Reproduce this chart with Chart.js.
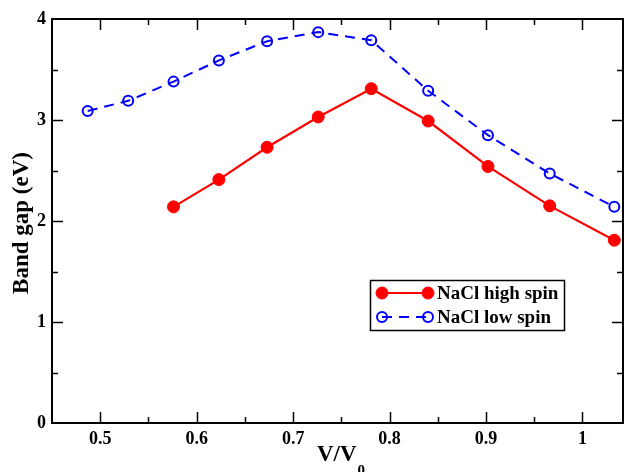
<!DOCTYPE html>
<html>
<head>
<meta charset="utf-8">
<script src="https://cdn.jsdelivr.net/npm/chart.js@4"></script>
<style>
  html, body { margin: 0; padding: 0; background: #fff; }
  #wrap { width: 624px; height: 472px; }
</style>
</head>
<body>
<div id="wrap"><canvas id="myChart" width="624" height="472"></canvas></div>
<script>
// band gap vs. V/V0 for NaCl structure
const volRatio = [0.487, 0.529, 0.576, 0.623, 0.673, 0.726, 0.781, 0.840, 0.902, 0.966, 1.033];
const lowSpinGap = [3.09, 3.19, 3.38, 3.59, 3.78, 3.87, 3.79, 3.29, 2.85, 2.47, 2.14];
// high spin starts at the third volume
const highSpinVol = volRatio.slice(2);
const highSpinGap = [2.14, 2.41, 2.73, 3.03, 3.31, 2.99, 2.54, 2.15, 1.81];
const xTickLabels = ['0.5', '0.6', '0.7', '0.8', '0.9', '1'];
const yTickLabels = ['0', '1', '2', '3', '4'];
const seriesNames = ['NaCl high spin', 'NaCl low spin'];

const FONT = '"Liberation Serif", "Times New Roman", serif';

function pts(xs, ys) {
    return xs.map((x, i) => ({ x: x, y: ys[i] }));
}

function isMajor(v, step) {
    return Math.abs(v / step - Math.round(v / step)) < 1e-6;
}

// stretch the plot to 1px from the right edge (chart.js keeps room for the last label)
const rightEdgePlugin = {
    id: 'rightEdge',
    afterLayout(chart) {
        const s = chart.scales.x;
        s.right = chart.width - 1;
        s.width = s.right - s.left;
        s.configure();
        chart.chartArea.right = s.right;
        chart.chartArea.width = s.right - chart.chartArea.left;
    }
};

// frame, inward ticks, axis titles and the boxed legend
const framePlugin = {
    id: 'frame',
    afterDraw(chart) {
        const ctx = chart.ctx;
        const a = chart.chartArea;
        const xs = chart.scales.x, ys = chart.scales.y;
        ctx.save();
        ctx.strokeStyle = '#000';
        ctx.lineWidth = 2;
        ctx.strokeRect(a.left, a.top, a.right - a.left, a.bottom - a.top);

        ctx.lineWidth = 1.5;
        ctx.beginPath();
        for (let v = 0.5; v <= xs.max + 1e-9; v += 0.05) {
            const px = Math.round(xs.getPixelForValue(v)) + 0.5;
            const len = isMajor(v, 0.1) ? 11 : 6;
            ctx.moveTo(px, a.bottom); ctx.lineTo(px, a.bottom - len);
            ctx.moveTo(px, a.top); ctx.lineTo(px, a.top + len);
        }
        for (let v = 0.5; v < ys.max; v += 0.5) {
            const py = Math.round(ys.getPixelForValue(v)) + 0.5;
            const len = isMajor(v, 1) ? 11 : 6;
            ctx.moveTo(a.left, py); ctx.lineTo(a.left + len, py);
            ctx.moveTo(a.right, py); ctx.lineTo(a.right - len, py);
        }
        ctx.stroke();

        // x title with subscript
        ctx.fillStyle = '#000';
        ctx.textBaseline = 'alphabetic';
        ctx.textAlign = 'left';
        ctx.font = 'bold 23px ' + FONT;
        const main = 'V/V';
        const w = ctx.measureText(main).width;
        const tx = 317;
        ctx.fillText(main, tx, 461);
        ctx.font = 'bold 15px ' + FONT;
        ctx.fillText('0', tx + w + 1, 475);

        // y title
        ctx.save();
        ctx.translate(28, 223);
        ctx.rotate(-Math.PI / 2);
        ctx.textAlign = 'center';
        ctx.font = 'bold 23px ' + FONT;
        ctx.fillText('Band gap (eV)', 0, 0);
        ctx.restore();

        // legend box
        const lx = 370, ly = 280, lw = 194, lh = 50;
        ctx.fillStyle = '#fff';
        ctx.fillRect(lx, ly, lw, lh);
        ctx.lineWidth = 1.5;
        ctx.strokeStyle = '#000';
        ctx.strokeRect(lx + 0.5, ly + 0.5, lw, lh);
        chart.data.datasets.forEach((ds, i) => {
            const y = ly + 13 + i * 24;
            const x0 = 382, x1 = 428;
            ctx.save();
            ctx.strokeStyle = ds.borderColor;
            ctx.lineWidth = ds.borderWidth;
            ctx.setLineDash(ds.borderDash || []);
            ctx.beginPath();
            ctx.moveTo(x0, y); ctx.lineTo(x1, y);
            ctx.stroke();
            ctx.setLineDash([]);
            [x0, x1].forEach(cx => {
                ctx.beginPath();
                ctx.arc(cx, y, ds.pointRadius, 0, Math.PI * 2);
                if (ds.pointBackgroundColor !== 'transparent') {
                    ctx.fillStyle = ds.pointBackgroundColor;
                    ctx.fill();
                }
                ctx.lineWidth = ds.pointBorderWidth;
                ctx.strokeStyle = ds.pointBorderColor;
                ctx.stroke();
            });
            ctx.restore();
            ctx.fillStyle = '#000';
            ctx.font = 'bold 19px ' + FONT;
            ctx.textBaseline = 'middle';
            ctx.textAlign = 'left';
            ctx.fillText(ds.label, 437, y + 1);
        });
        ctx.restore();
    }
};

const ctx = document.getElementById('myChart').getContext('2d');
const chart = new Chart(ctx, {
    type: 'scatter',
    data: {
        datasets: [{
            label: seriesNames[0],
            data: pts(highSpinVol, highSpinGap),
            showLine: true,
            borderColor: '#ff0000',
            borderWidth: 2.2,
            pointRadius: 6,
            pointBackgroundColor: '#ff0000',
            pointBorderColor: '#ff0000',
            pointBorderWidth: 1
        }, {
            label: seriesNames[1],
            data: pts(volRatio, lowSpinGap),
            showLine: true,
            borderColor: '#0000ff',
            borderWidth: 2,
            borderDash: [10, 7],
            pointRadius: 5,
            pointBackgroundColor: 'transparent',
            pointBorderColor: '#0000ff',
            pointBorderWidth: 2
        }]
    },
    options: {
        responsive: false,
        animation: false,
        events: [],
        layout: { padding: { top: 19, right: 1, left: 0, bottom: 0 } },
        plugins: {
            legend: { display: false },
            tooltip: { enabled: false }
        },
        scales: {
            x: {
                type: 'linear',
                min: 0.45,
                max: 1.042,
                grid: { display: false, drawTicks: false },
                border: { display: false },
                afterFit: s => { s.height = 49; },
                ticks: {
                    stepSize: 0.05,
                    includeBounds: false,
                    padding: 6,
                    color: '#000',
                    font: { family: FONT, size: 18, weight: 'bold' },
                    maxRotation: 0,
                    autoSkip: false,
                    callback: v => {
                        const k = Math.round(v * 10);
                        return isMajor(v, 0.1) && xTickLabels.includes(String(k / 10)) ? String(k / 10) : '';
                    }
                }
            },
            y: {
                min: 0,
                max: 4,
                grid: { display: false, drawTicks: false },
                border: { display: false },
                afterFit: s => { s.width = 52; },
                ticks: {
                    stepSize: 0.5,
                    padding: 6,
                    color: '#000',
                    font: { family: FONT, size: 18, weight: 'bold' },
                    autoSkip: false,
                    callback: v => isMajor(v, 1) ? yTickLabels[Math.round(v)] : ''
                }
            }
        }
    },
    plugins: [rightEdgePlugin, framePlugin]
});
</script>
</body>
</html>
